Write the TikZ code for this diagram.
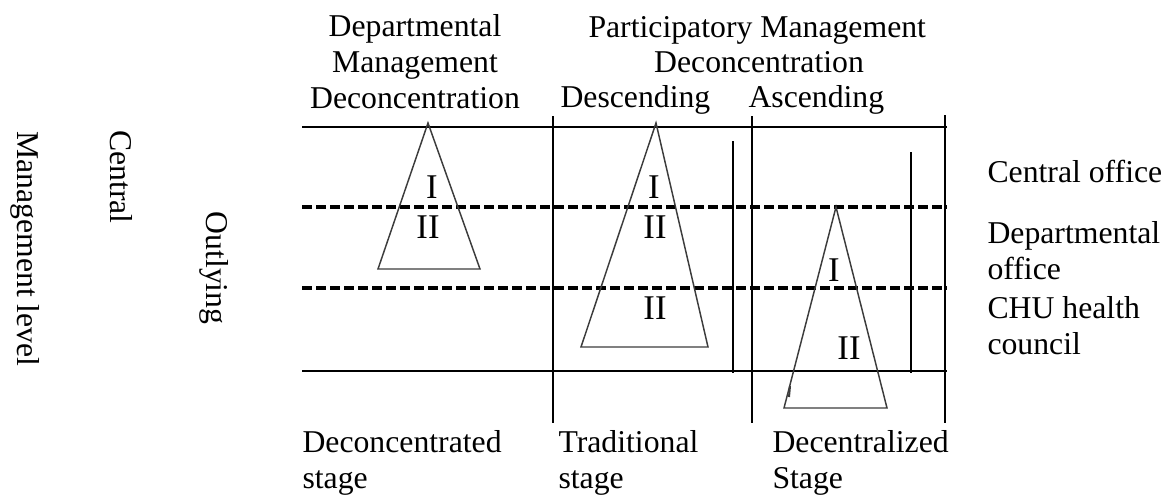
\documentclass[tikz,border=0pt]{standalone}
\usepackage{fontspec}
\setmainfont{Liberation Serif}

\tikzset{every picture/.style={line width=0.75pt}}
\tikzset{
	level line/.style={line width=1.5pt},
	level dash/.style={line width=2.3pt, dash pattern=on 7.5pt off 3pt},
	pyramid/.style={draw={rgb, 255:red, 60; green, 60; blue, 60}, line width=1.1pt},
	label text/.style={font=\fontsize{23.8}{27}\selectfont, inner sep=0pt},
	numeral/.style={font=\fontsize{26}{27}\selectfont, inner sep=0pt}}

\begin{document}
\begin{tikzpicture}[x=0.75pt,y=0.75pt,yscale=-1,xscale=1]
	\useasboundingbox (0,0) rectangle (1171,496);

	%Straight Lines [id:levels] 
	\draw [level line] (302,127) -- (947,127) ;
	\draw [level dash] (302,207) -- (947,207) ;
	\draw [level dash] (302,288) -- (947,288) ;
	\draw [level line] (302,371) -- (947,371) ;
	%Straight Lines [id:stages] 
	\draw [level line] (553,116) -- (553,423) ;
	\draw [level line] (752,116) -- (752,423) ;
	\draw [level line] (945,115) -- (945,423) ;
	\draw [level line] (733,141) -- (733,373) ;
	\draw [level line] (911,152) -- (911,373) ;

	%Shape: Triangle [id:deconcentrated] 
	\draw [pyramid] (428,123) -- (480,269) -- (378,269) -- cycle ;
	%Shape: Triangle [id:traditional] 
	\draw [pyramid] (656,123) -- (708,347) -- (581,347) -- cycle ;
	%Shape: Triangle [id:decentralized] 
	\draw [pyramid] (836,207) -- (887,408) -- (784,408) -- cycle ;
	\draw [pyramid, line width=1.5pt] (790,386) -- (789,397) ;

	% Text Node
	\node (numA) [numeral] at (432,187) {I};
	\node (numB) [numeral] at (428,227) {II};
	\node (numC) [numeral] at (654,187) {I};
	\node (numD) [numeral] at (655,227) {II};
	\node (numE) [numeral] at (655,308) {II};
	\node (numF) [numeral] at (834,270) {I};
	\node (numG) [numeral] at (849,348) {II};

	% Text Node
	\node (mgmtLevel) [label text, rotate=-90] at (25,249) {Management level};
	\node (central) [label text, rotate=-90] at (121,177) {Central};
	\node (outlying) [label text, rotate=-90] at (214,268) {Outlying};

	% Text Node
	\node (deptMgmt) [label text, align=center, anchor=north] at (415,14) {Departmental\\Management\\Deconcentration};
	\node (partMgmt) [label text, anchor=base west] at (588,37) {Participatory Management};
	\node (partDecon) [label text, anchor=base] at (759,72) {Deconcentration};
	\node (descending) [label text, anchor=base west] at (560,107) {Descending};
	\node (ascending) [label text, anchor=base west] at (748,107) {Ascending};

	% Text Node
	\node (centralOffice) [label text, anchor=base west] at (987,182) {Central office};
	\node (deptOffice) [label text, align=left, anchor=north west] at (987,221) {Departmental\\office};
	\node (chuCouncil) [label text, align=left, anchor=north west] at (987,296) {CHU health\\council};

	% Text Node
	\node (stageDecon) [label text, align=left, anchor=north west] at (302,430) {Deconcentrated\\stage};
	\node (stageTrad) [label text, align=left, anchor=north west] at (558,430) {Traditional\\stage};
	\node (stageDecent) [label text, align=left, anchor=north west] at (772,430) {Decentralized\\Stage};

\end{tikzpicture}
\end{document}
